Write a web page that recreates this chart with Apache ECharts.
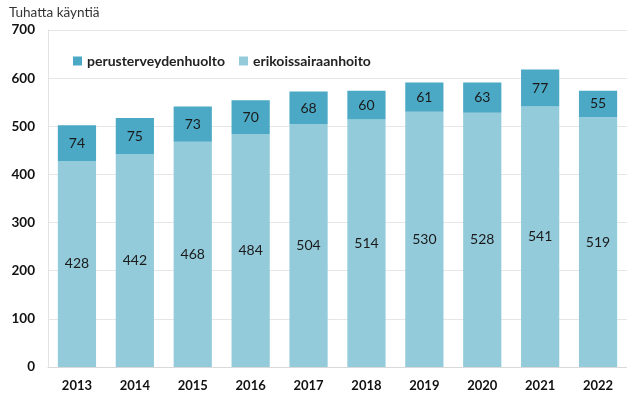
<!DOCTYPE html>
<html>
<head>
<meta charset="utf-8">
<script src="https://cdn.jsdelivr.net/npm/echarts@6/dist/echarts.min.js"></script>
<style>
  html, body { margin: 0; padding: 0; background: #fff; }
  #chart { width: 627px; height: 396px; }
</style>
</head>
<body>
<div id="chart"></div>
<script>
// Käynnit vuosittain (tuhatta)
const years = ['2013', '2014', '2015', '2016', '2017', '2018', '2019', '2020', '2021', '2022'];
const erikoissairaanhoito = [428, 442, 468, 484, 504, 514, 530, 528, 541, 519];
const perusterveydenhuolto = [74, 75, 73, 70, 68, 60, 61, 63, 77, 55];
const yTicks = [0, 100, 200, 300, 400, 500, 600, 700];

const fontFamily = 'Lato, "Open Sans", sans-serif';
const chart = echarts.init(document.getElementById('chart'));

const labelStyle = {
  show: true,
  position: 'inside',
  color: '#1a1a1a',
  fontSize: 14,
  fontFamily: fontFamily
};

chart.setOption({
  animation: false,
  graphic: [{
    type: 'text',
    left: 9,
    top: 6,
    style: { text: 'Tuhatta käyntiä', fontSize: 13.5, fill: '#333', fontFamily: fontFamily }
  }],
  legend: {
    top: 49,
    left: 68,
    itemWidth: 9,
    itemHeight: 9,
    itemGap: 14,
    icon: 'rect',
    textStyle: { fontSize: 14, fontWeight: 'bold', color: '#222', fontFamily: fontFamily },
    data: ['perusterveydenhuolto', 'erikoissairaanhoito']
  },
  grid: { left: 48, right: 0, top: 30, bottom: 29 },
  xAxis: {
    type: 'category',
    data: years,
    axisLine: { lineStyle: { color: '#d9d9d9' } },
    axisTick: { show: false },
    axisLabel: { color: '#111', fontWeight: 'bold', fontSize: 13, margin: 12, fontFamily: fontFamily }
  },
  yAxis: {
    type: 'value',
    min: yTicks[0],
    max: yTicks[yTicks.length - 1],
    interval: 100,
    axisLine: { show: true, lineStyle: { color: '#e3e3e3' } },
    axisTick: { show: false },
    splitLine: { lineStyle: { color: '#e6e6e6' } },
    axisLabel: { color: '#111', fontWeight: 'bold', fontSize: 13.5, margin: 13, fontFamily: fontFamily }
  },
  series: [
    {
      name: 'erikoissairaanhoito',
      type: 'bar',
      stack: 'total',
      barWidth: '66%',
      data: erikoissairaanhoito,
      itemStyle: { color: '#93cbdb' },
      label: labelStyle
    },
    {
      name: 'perusterveydenhuolto',
      type: 'bar',
      stack: 'total',
      barWidth: '66%',
      data: perusterveydenhuolto,
      itemStyle: { color: '#4ba9c5' },
      label: labelStyle
    }
  ]
});
</script>
</body>
</html>
